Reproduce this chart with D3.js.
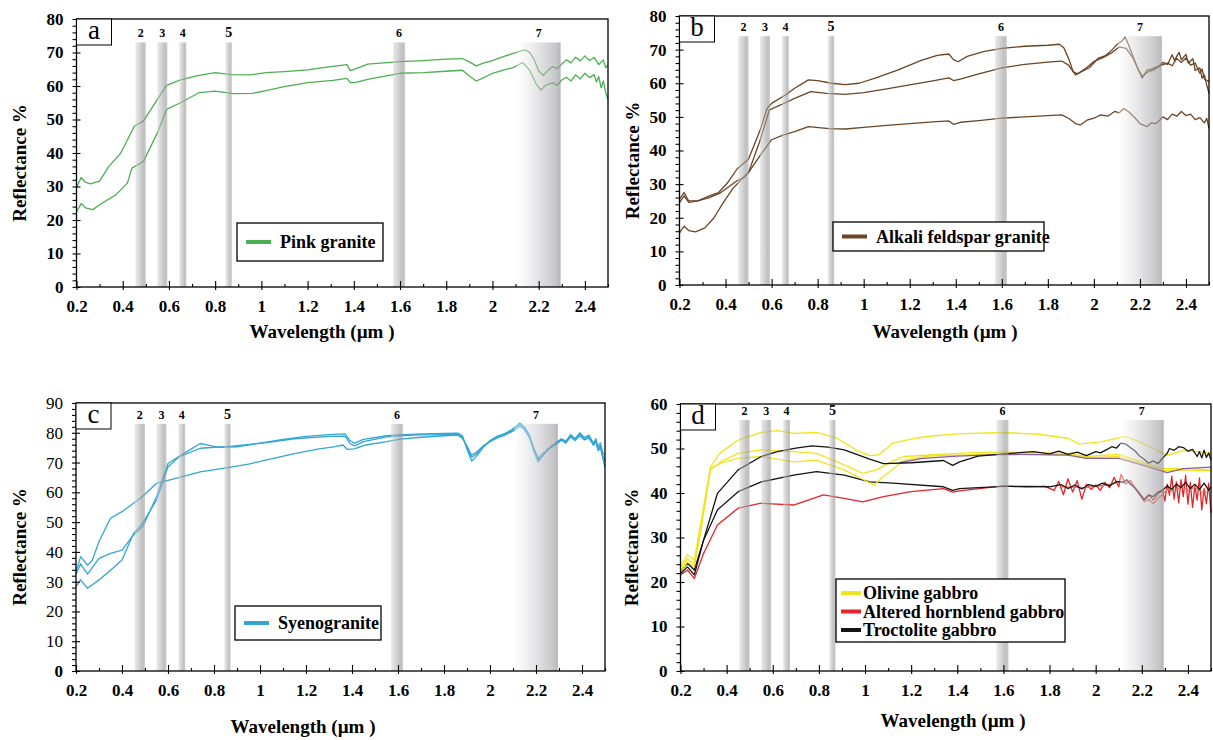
<!DOCTYPE html>
<meta charset="utf-8">
<style>
    body { margin: 0; background: #fff; }
    svg text { font-family: "Liberation Serif", "Times New Roman", serif; fill: #000; }
</style>
<body>
    <svg id="fig" width="1213" height="740"></svg>
</body>
<script src="https://d3js.org/d3.v7.min.js"></script>
<script>
    // Landsat-type bands shaded on every panel
    var bandNames = ["2", "3", "4", "5", "6", "7"],
        bandLo = [0.455, 0.55, 0.645, 0.845, 1.57, 2.105],
        bandHi = [0.50, 0.593, 0.675, 0.872, 1.622, 2.295];

    var xMajor = [0.2, 0.4, 0.6, 0.8, 1, 1.2, 1.4, 1.6, 1.8, 2, 2.2, 2.4],
        xMinor = [0.3, 0.5, 0.7, 0.9, 1.1, 1.3, 1.5, 1.7, 1.9, 2.1, 2.3, 2.5];

    // (a) pink granite
    var pinkUpper = [[0.2,29.6],[0.22,32.7],[0.24,31.2],[0.26,30.8],[0.3,31.6],[0.34,36],[0.39,39.8],[0.45,48],[0.49,49.6],[0.55,56],[0.59,60.2],[0.65,61.8],[0.73,63.2],[0.8,64],[0.87,63.4],[0.95,63.3],[1.02,64],[1.1,64.3],[1.2,64.8],[1.3,65.8],[1.37,66.4],[1.385,64.6],[1.41,65.2],[1.46,66.5],[1.6,67.3],[1.7,67.6],[1.8,68],[1.87,68.2],[1.9,67.2],[1.93,66],[1.96,66.8],[2.0,67.6],[2.04,68.6],[2.08,69.5],[2.12,70.4],[2.14,70.8],[2.16,70.1],[2.18,68],[2.2,64.5],[2.22,63.2],[2.24,64.6],[2.26,65.8],[2.28,65.2],[2.3,66.6],[2.32,67.8],[2.34,66.9],[2.36,68.6],[2.38,67.5],[2.4,69],[2.42,67.6],[2.44,68.5],[2.46,66.4],[2.48,67.8],[2.49,65.5],[2.5,66.2]];
    var pinkLower = [[0.2,22.4],[0.22,24.9],[0.24,23.6],[0.27,23.1],[0.31,25],[0.37,27.5],[0.42,31],[0.44,35.5],[0.49,37.5],[0.55,46],[0.59,53],[0.65,55],[0.73,58],[0.8,58.5],[0.88,57.7],[0.96,57.8],[1.02,58.6],[1.1,59.8],[1.2,61],[1.31,61.7],[1.37,62.3],[1.385,61],[1.41,61.1],[1.46,62],[1.6,63.8],[1.7,64],[1.8,64.4],[1.87,64.7],[1.9,63],[1.93,61.5],[1.96,62.4],[2.0,63.8],[2.05,64.8],[2.09,65.5],[2.13,67],[2.16,64.8],[2.19,60.5],[2.21,58.8],[2.23,60.2],[2.26,61],[2.28,60.2],[2.3,61.8],[2.32,62.6],[2.34,61.5],[2.36,63.3],[2.38,62.1],[2.4,63.8],[2.42,62.5],[2.44,63.4],[2.45,61.2],[2.46,62.8],[2.47,59.5],[2.48,61.5],[2.49,58],[2.5,56]];

    // (b) alkali feldspar granite
    var feldsparA = [[0.2,25.5],[0.22,27.5],[0.24,25],[0.28,25],[0.33,26.5],[0.37,27.5],[0.41,30.5],[0.45,34.5],[0.48,36.3],[0.5,37.5],[0.55,46],[0.58,52.5],[0.6,54],[0.66,56.5],[0.7,58.5],[0.76,61],[0.8,60.8],[0.86,60],[0.92,59.6],[0.98,60],[1.05,61.5],[1.15,64],[1.25,66.8],[1.32,68.3],[1.37,68.7],[1.39,67],[1.41,66.4],[1.45,68],[1.52,69.4],[1.6,70.4],[1.7,71],[1.8,71.3],[1.85,71.6],[1.87,70.5],[1.89,67.4],[1.91,63.5],[1.92,62.5],[1.95,63.6],[1.98,64.6],[2.02,67.5],[2.05,68.2],[2.08,70],[2.1,71.5],[2.12,72.4],[2.135,73.8],[2.15,71.5],[2.17,68],[2.19,64.5],[2.21,61.5],[2.23,63.8],[2.25,64.2],[2.28,65],[2.3,66.2],[2.32,65.6],[2.34,68.5],[2.35,66.8],[2.37,69.2],[2.38,67],[2.4,68.6],[2.41,66],[2.43,67.3],[2.44,63.8],[2.46,64.6],[2.47,61.5],[2.48,62.5],[2.49,59.5],[2.5,57]];
    var feldsparB = [[0.2,24.5],[0.22,26.5],[0.24,24.6],[0.28,25],[0.33,26],[0.38,27.5],[0.42,29.5],[0.45,31],[0.48,32],[0.5,33.5],[0.55,43],[0.59,52],[0.62,53],[0.66,54.2],[0.7,55.5],[0.77,57.5],[0.84,57],[0.92,56.7],[1.0,57.2],[1.1,58.3],[1.2,59.5],[1.3,60.7],[1.37,61.6],[1.39,60.8],[1.42,61.2],[1.5,62.8],[1.6,64.6],[1.7,65.6],[1.8,66.3],[1.86,66.6],[1.89,65.4],[1.91,63.4],[1.93,62.8],[1.96,64.2],[2.0,66.5],[2.04,67.6],[2.08,69.2],[2.11,70.8],[2.14,70.4],[2.17,67.5],[2.19,64.5],[2.21,62],[2.23,63.2],[2.26,64],[2.29,65.3],[2.32,66],[2.34,65.2],[2.36,67.4],[2.38,66.2],[2.4,67.5],[2.42,65.4],[2.44,66],[2.46,63],[2.47,64.2],[2.48,61.2],[2.5,60.5]];
    var feldsparC = [[0.2,15.5],[0.22,17.5],[0.24,16.2],[0.27,15.8],[0.31,17],[0.35,20],[0.39,24.5],[0.43,28.5],[0.47,31.5],[0.5,33.5],[0.55,38.5],[0.6,43.2],[0.65,44.6],[0.7,45.6],[0.76,47.1],[0.85,46.5],[0.92,46.4],[1.0,46.9],[1.1,47.5],[1.2,48],[1.3,48.5],[1.37,48.8],[1.39,47.8],[1.42,48.4],[1.5,48.9],[1.6,49.6],[1.7,50],[1.8,50.4],[1.86,50.6],[1.89,49.6],[1.92,48],[1.94,47.6],[1.97,49],[2.0,49.6],[2.03,50.6],[2.06,50.2],[2.09,51.6],[2.11,51.2],[2.13,52.5],[2.15,51.6],[2.18,49.6],[2.2,48],[2.23,47.1],[2.25,48.2],[2.27,48],[2.3,50],[2.32,49.2],[2.34,50.8],[2.36,50.2],[2.38,51.6],[2.4,50.4],[2.42,50.8],[2.44,49.2],[2.46,49.8],[2.48,48.2],[2.49,49.6],[2.5,46.6]];

    // (c) syenogranite
    var syenoP = [[0.2,33.3],[0.22,38.4],[0.25,35.6],[0.27,37],[0.3,43.5],[0.35,51.3],[0.4,53.5],[0.48,58],[0.55,63],[0.6,64],[0.65,65],[0.74,66.9],[0.86,68.3],[0.95,69.5],[1.03,70.9],[1.15,73],[1.25,74.5],[1.32,75.3],[1.36,75.9],[1.38,74.4],[1.41,74.6],[1.46,75.9],[1.55,77],[1.61,77.9],[1.7,78.5],[1.8,79],[1.86,79.2],[1.88,78.2],[1.9,75.5],[1.92,72.5],[1.94,73.4],[1.97,75.6],[2.0,77],[2.03,78.2],[2.06,79],[2.09,80.2],[2.11,81],[2.13,82.3],[2.15,81],[2.17,78.5],[2.19,74.5],[2.21,71.5],[2.23,73],[2.25,74.2],[2.27,75.5],[2.29,76.2],[2.31,77.5],[2.33,76.5],[2.35,78.6],[2.37,77.4],[2.39,79],[2.41,77.6],[2.43,78.2],[2.45,75.8],[2.46,77],[2.47,74.5],[2.48,75.6],[2.49,72.5],[2.5,70.5]];
    var syenoQ = [[0.2,32.5],[0.22,36],[0.25,32.5],[0.3,37.8],[0.35,39.5],[0.4,40.6],[0.45,45.7],[0.49,48.5],[0.55,58.5],[0.6,69.7],[0.65,72.2],[0.7,74.5],[0.74,76.4],[0.78,75.8],[0.82,75.1],[0.9,75.3],[1.0,76.5],[1.1,77.8],[1.2,78.8],[1.3,79.4],[1.37,79.6],[1.39,77.5],[1.41,76.5],[1.45,77.8],[1.55,79],[1.6,79.3],[1.7,79.6],[1.8,79.8],[1.86,79.9],[1.88,79],[1.9,74.5],[1.92,70.5],[1.94,72],[1.97,75],[2.0,77.4],[2.03,78.8],[2.06,79.6],[2.09,80.8],[2.11,82],[2.13,83.2],[2.15,82],[2.17,79.5],[2.19,75],[2.21,71],[2.23,72.2],[2.25,74.6],[2.27,75.2],[2.29,77],[2.31,77.8],[2.33,77],[2.35,79.4],[2.37,78],[2.39,80],[2.41,78.4],[2.43,79.2],[2.45,76.5],[2.46,78],[2.47,75.2],[2.48,76.6],[2.49,73.4],[2.5,72.5]];
    var syenoR = [[0.2,28.3],[0.22,30.6],[0.25,27.8],[0.3,30.6],[0.36,34.5],[0.4,37.3],[0.45,46.2],[0.49,49.6],[0.55,57.4],[0.6,68.6],[0.65,72],[0.74,74.8],[0.88,75.5],[1.03,76.7],[1.15,78],[1.3,78.8],[1.37,78.9],[1.39,76.5],[1.41,75.6],[1.45,77],[1.55,78.6],[1.6,79],[1.7,79.3],[1.8,79.4],[1.86,79.5],[1.88,78.6],[1.9,75],[1.92,71.8],[1.94,72.8],[1.97,75.4],[2.0,77.2],[2.03,78.5],[2.06,79.4],[2.09,80.5],[2.11,81.6],[2.13,82.8],[2.15,81.5],[2.17,79],[2.19,74],[2.21,70.2],[2.23,72.5],[2.25,74],[2.27,75.8],[2.29,76.5],[2.31,78],[2.33,77.2],[2.35,79],[2.37,77.8],[2.39,79.6],[2.41,78],[2.43,78.8],[2.45,76],[2.46,77.4],[2.47,74],[2.48,75],[2.49,71.5],[2.5,68.5]];

    // (d) gabbros
    var olivine1 = [[0.2,23.4],[0.23,26.1],[0.26,24.9],[0.29,33.9],[0.33,45.9],[0.37,48.9],[0.45,51.9],[0.55,53.6],[0.62,54],[0.69,53.4],[0.79,53.6],[0.88,52.3],[0.96,49.7],[1.02,48.4],[1.06,48.6],[1.12,51.2],[1.2,52.1],[1.27,52.7],[1.4,53.3],[1.6,53.6],[1.75,53.2],[1.88,52.3],[1.93,51],[2.02,51.5],[2.13,52.7],[2.19,51.5],[2.25,50],[2.31,48.5],[2.38,49.5],[2.45,49.3],[2.5,48.9]];
    var olivine2 = [[0.2,22.5],[0.23,25.2],[0.26,24],[0.29,33],[0.33,45.2],[0.38,47.2],[0.45,48.9],[0.55,49.7],[0.69,49.3],[0.79,48.9],[0.91,46.3],[0.99,44.4],[1.05,45.2],[1.12,47.2],[1.17,48.2],[1.3,48.6],[1.45,49],[1.6,49.2],[1.88,48.9],[1.96,48.2],[2.1,48.7],[2.2,47],[2.29,45.5],[2.38,45.5],[2.5,45.2]];
    var olivine3 = [[0.2,22],[0.23,24.5],[0.26,23.5],[0.29,32],[0.33,45.6],[0.38,46.8],[0.45,47.8],[0.55,48.2],[0.69,47],[0.79,47.4],[0.91,45.2],[1.0,42.8],[1.04,41.8],[1.08,43.7],[1.17,47.4],[1.27,48.3],[1.4,48.5],[1.6,48.8],[1.88,48.6],[1.96,47.9],[2.1,48.2],[2.2,46.6],[2.29,45],[2.38,45.2],[2.5,45]];
    var olivineAlt = [[1.15,46.8],[1.25,47.8],[1.4,48.3],[1.6,48.7],[1.88,48.5],[1.96,47.8],[2.1,47.8],[2.2,46.3],[2.31,44.6],[2.38,45.5],[2.5,45.8]];
    var hornblend = [[0.2,21.6],[0.23,22.7],[0.26,20.8],[0.3,26.4],[0.36,32.8],[0.45,36.6],[0.55,37.7],[0.69,37.3],[0.82,39.6],[0.91,38.8],[0.99,38],[1.08,39.2],[1.2,40.3],[1.34,41],[1.38,40.2],[1.41,40.5],[1.6,41.6],[1.7,41.3],[1.78,41.5],[1.82,40.6],[1.84,42.6],[1.86,39.6],[1.88,43.2],[1.9,40.2],[1.92,42.8],[1.94,38.6],[1.96,42],[1.98,40.8],[2.0,41.8],[2.02,40.6],[2.04,42.4],[2.06,41.2],[2.08,43.5],[2.1,41.4],[2.11,44.2],[2.13,42],[2.15,42.8],[2.17,41.2],[2.19,40],[2.21,38.6],[2.23,39.6],[2.25,38.4],[2.27,39.8],[2.29,40.6],[2.3,38.2],[2.31,42],[2.32,39.5],[2.33,43.8],[2.34,38.6],[2.35,42.5],[2.36,37.8],[2.37,43],[2.38,39.2],[2.39,44],[2.4,37.5],[2.41,42.4],[2.42,36.8],[2.43,41.6],[2.44,38.4],[2.45,43.4],[2.46,36.2],[2.47,41],[2.48,37.6],[2.49,42.2],[2.5,35.5]];
    var hornblendAlt = [[1.85,41.4],[1.95,41.2],[2.05,41.8],[2.1,42.4],[2.135,42.9],[2.16,41.6],[2.19,39.6],[2.21,38],[2.23,38.6],[2.25,37.6],[2.27,38.8],[2.29,39.6],[2.31,40.8],[2.34,40.2],[2.37,41.4],[2.4,40.6],[2.43,41.3],[2.46,40.2],[2.5,40.3]];
    var troctolite1 = [[0.2,21.9],[0.23,23.4],[0.26,21.6],[0.3,29.4],[0.36,39.9],[0.45,45.2],[0.55,48.2],[0.62,49.3],[0.7,50.1],[0.77,50.6],[0.84,50.3],[0.91,49.7],[1.02,47.6],[1.08,46.6],[1.2,46.8],[1.34,47.3],[1.38,46.2],[1.41,47],[1.49,48.3],[1.63,48.9],[1.73,49.3],[1.8,48.8],[1.84,49.4],[1.88,48.7],[1.92,49.2],[1.96,48.4],[2.0,49.3],[2.02,49],[2.05,49.8],[2.07,50.4],[2.09,50.1],[2.11,51.2],[2.13,51],[2.15,50.2],[2.17,49.5],[2.19,48.3],[2.21,47.6],[2.23,46.7],[2.25,47.2],[2.27,46.6],[2.29,47.8],[2.31,48.9],[2.32,50],[2.34,49.6],[2.36,50.4],[2.38,50.2],[2.4,49.4],[2.42,49.8],[2.44,48.2],[2.45,49.3],[2.46,47.9],[2.47,49.6],[2.48,48],[2.49,49],[2.5,47.4]];
    var troctolite2 = [[0.2,22.3],[0.23,24.2],[0.26,22.7],[0.3,29.4],[0.36,36.2],[0.45,40.3],[0.55,42.5],[0.69,44],[0.79,44.8],[0.91,44],[1.02,42.5],[1.12,42.2],[1.34,41.4],[1.38,40.6],[1.41,41],[1.6,41.5],[1.7,41.5],[1.8,41.4],[1.85,41.9],[1.88,41],[1.91,41.8],[1.94,40.9],[1.97,41.9],[2.0,41.5],[2.03,42.2],[2.06,41.6],[2.09,42.6],[2.12,42.4],[2.135,43],[2.15,42],[2.17,41.2],[2.19,39.8],[2.21,38.4],[2.23,39.5],[2.25,39.2],[2.27,40.2],[2.29,40.6],[2.31,41.6],[2.33,40.8],[2.35,42],[2.37,41.2],[2.39,42.4],[2.41,41],[2.43,42],[2.45,40.8],[2.47,42.2],[2.49,40.6],[2.5,41.4]];

    var FONT = "'Liberation Serif', 'Times New Roman', serif";
    var svg = d3.select("#fig");
    var defs = svg.append("defs");

    // narrow band shading: light left edge, darker right edge
    var gn = defs.append("linearGradient").attr("id", "bandGrad");
    gn.append("stop").attr("offset", "0%").attr("stop-color", "#d4d4d4").attr("stop-opacity", 0.5);
    gn.append("stop").attr("offset", "75%").attr("stop-color", "#969696").attr("stop-opacity", 0.6);
    gn.append("stop").attr("offset", "100%").attr("stop-color", "#a6a6a6").attr("stop-opacity", 0.6);
    // wide band 7: fades in from white
    var gw = defs.append("linearGradient").attr("id", "wideGrad");
    gw.append("stop").attr("offset", "0%").attr("stop-color", "#ffffff").attr("stop-opacity", 0.4);
    gw.append("stop").attr("offset", "92%").attr("stop-color", "#9c9ca2").attr("stop-opacity", 0.6);
    gw.append("stop").attr("offset", "100%").attr("stop-color", "#8c8c92").attr("stop-opacity", 0.65);

    var panels = [
        {
            id: "a", left: 76.5, right: 608, top: 19, bottom: 287, ymax: 80, bandTop: 73,
            thinTicks: false, titleX: 322, titleY: 338, ylabX: 20,
            series: [{ d: pinkUpper, c: "#4caf50" }, { d: pinkLower, c: "#4caf50" }],
            legend: { x: 237, y: 223, w: 146, h: 38, items: [["Pink granite", "#4caf50"]] }
        },
        {
            id: "b", left: 679.5, right: 1209, top: 16, bottom: 285, ymax: 80, bandTop: 74,
            thinTicks: false, titleX: 945, titleY: 338, ylabX: 633,
            series: [{ d: feldsparA, c: "#6b4424" }, { d: feldsparB, c: "#6b4424" }, { d: feldsparC, c: "#6b4424" }],
            legend: { x: 833, y: 222, w: 211, h: 29, items: [["Alkali feldspar granite", "#6b4424"]] }
        },
        {
            id: "c", left: 76, right: 605, top: 403, bottom: 671, ymax: 90, bandTop: 83,
            thinTicks: true, titleX: 303, titleY: 733, ylabX: 20,
            series: [{ d: syenoP, c: "#33a6d5" }, { d: syenoQ, c: "#33a6d5" }, { d: syenoR, c: "#33a6d5" }],
            legend: { x: 235, y: 606, w: 146, h: 34, items: [["Syenogranite", "#33a6d5"]] }
        },
        {
            id: "d", left: 680.5, right: 1211, top: 404, bottom: 671, ymax: 60, bandTop: 56.4,
            thinTicks: false, titleX: 953, titleY: 727, ylabX: 632,
            series: [
                { d: hornblend, c: "#e5242a" }, { d: hornblendAlt, c: "#d9775f" },
                { d: troctolite2, c: "#141414" },
                { d: olivine3, c: "#f2e41c" }, { d: olivine2, c: "#f2e41c" },
                { d: olivineAlt, c: "#8a5ca6" }, { d: olivine1, c: "#f2e41c" },
                { d: troctolite1, c: "#141414" }
            ],
            legend: {
                x: 836, y: 579, w: 229, h: 63,
                items: [["Olivine gabbro", "#f2e41c"], ["Altered hornblend gabbro", "#e5242a"], ["Troctolite gabbro", "#141414"]]
            }
        }
    ];

    panels.forEach(drawPanel);

    function drawPanel(p) {
        var x = d3.scaleLinear().domain([0.2, 2.5]).range([p.left, p.right]),
            y = d3.scaleLinear().domain([0, p.ymax]).range([p.bottom, p.top]);
        var g = svg.append("g").attr("class", "panel-" + p.id);

        var line = d3.line()
            .x(function (d) { return x(d[0]); })
            .y(function (d) { return y(d[1]); });

        p.series.forEach(function (s) {
            g.append("path").attr("d", line(s.d))
                .attr("fill", "none").attr("stroke", s.c)
                .attr("stroke-width", 1.3).attr("stroke-linejoin", "round");
        });

        // bands lie over the spectra
        bandNames.forEach(function (b, i) {
            var x0 = x(bandLo[i]), x1 = x(bandHi[i]);
            g.append("rect")
                .attr("x", x0).attr("width", x1 - x0)
                .attr("y", y(p.bandTop)).attr("height", p.bottom - y(p.bandTop))
                .attr("fill", b === "7" ? "url(#wideGrad)" : "url(#bandGrad)");
            g.append("text")
                .attr("x", (x0 + x1) / 2).attr("y", y(p.bandTop) - 5)
                .attr("text-anchor", "middle")
                .style("font-weight", "bold")
                .style("font-size", (b === "5" ? 14 : 12) + "px")
                .text(b);
        });

        // frame
        g.append("rect")
            .attr("x", p.left).attr("y", p.top)
            .attr("width", p.right - p.left).attr("height", p.bottom - p.top)
            .attr("fill", "none").attr("stroke", "#000").attr("stroke-width", 1.3);

        // x axis: major ticks cross the line, minor ones point inwards
        var xa = g.append("g").attr("transform", "translate(0," + p.bottom + ")")
            .call(d3.axisBottom(x).tickValues(xMajor).tickSize(3).tickPadding(10)
                .tickFormat(function (d) { return String(d); }));
        g.append("g").attr("transform", "translate(0," + p.bottom + ")")
            .call(d3.axisTop(x).tickValues(xMajor).tickSize(6).tickFormat(""));
        g.append("g").attr("transform", "translate(0," + p.bottom + ")")
            .call(d3.axisTop(x).tickValues(xMinor).tickSize(3).tickFormat(""));
        xa.selectAll("text")
            .style("font-family", FONT).style("font-size", "17px").style("font-weight", "bold");

        // y axis
        var yMajor = d3.range(0, p.ymax + 1, 10),
            yMinor = d3.range(0, p.ymax + 1, 2).filter(function (v) { return v % 10 !== 0; });
        var ya = g.append("g").attr("transform", "translate(" + p.left + ",0)")
            .call(d3.axisLeft(y).tickValues(yMajor).tickSize(4).tickPadding(9));
        g.append("g").attr("transform", "translate(" + p.left + ",0)")
            .call(d3.axisRight(y).tickValues(yMajor).tickSize(4).tickFormat(""));
        g.append("g").attr("transform", "translate(" + p.left + ",0)")
            .call(d3.axisLeft(y).tickValues(yMinor).tickSize(4).tickFormat(""));
        ya.selectAll("text")
            .style("font-family", FONT).style("font-size", "17px")
            .style("font-weight", function (d) { return (p.thinTicks && d !== 0) ? "normal" : "bold"; });

        g.selectAll(".domain").remove();
        g.selectAll(".tick line").attr("stroke", "#000").attr("stroke-width", 1.1);
        g.selectAll("g").attr("font-family", null);

        // panel letter
        g.append("rect").attr("x", p.left).attr("y", p.top).attr("width", 35).attr("height", 26)
            .attr("fill", "#fff").attr("stroke", "#000").attr("stroke-width", 1);
        g.append("text").attr("x", p.left + 17.5).attr("y", p.top + 20)
            .attr("text-anchor", "middle").style("font-size", "27px").text(p.id);

        // axis titles
        g.append("text").attr("x", p.titleX).attr("y", p.titleY)
            .attr("text-anchor", "middle")
            .style("font-size", "19px").style("font-weight", "bold")
            .text("Wavelength (\u00b5m )");
        g.append("text")
            .attr("transform", "translate(" + (p.ylabX + 6) + "," + ((p.top + p.bottom) / 2 + 10) + ")rotate(-90)")
            .attr("text-anchor", "middle")
            .style("font-size", "19px").style("font-weight", "bold")
            .text("Reflectance %");

        // legend
        var L = p.legend, multi = L.items.length > 1;
        g.append("rect").attr("x", L.x).attr("y", L.y).attr("width", L.w).attr("height", L.h)
            .attr("fill", "#fff").attr("stroke", "#000").attr("stroke-width", 1.3);
        L.items.forEach(function (it, i) {
            var cy = multi ? L.y + 14 + i * 18.5 : L.y + L.h / 2;
            g.append("line")
                .attr("x1", L.x + (multi ? 5 : 9)).attr("x2", L.x + (multi ? 25 : 34))
                .attr("y1", cy).attr("y2", cy)
                .attr("stroke", it[1]).attr("stroke-width", 4);
            g.append("text").attr("x", L.x + (multi ? 27 : 43)).attr("y", cy + 6)
                .style("font-size", "18px").style("font-weight", "bold").text(it[0]);
        });
    }
</script>
